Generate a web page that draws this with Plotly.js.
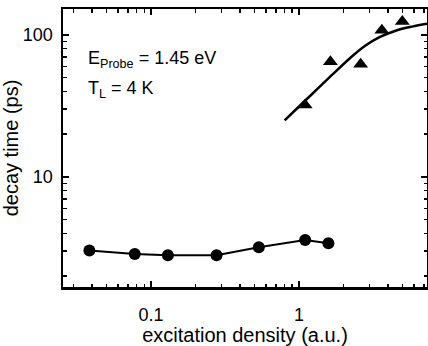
<!DOCTYPE html>
<html><head><meta charset="utf-8">
<script src="https://cdn.plot.ly/plotly-3.0.1.min.js"></script>
<style>html,body{margin:0;padding:0;background:#fff}#c{width:428px;height:346px}</style>
</head><body><div id="c"></div>
<script>
// low-density series (circles)
const circX = [0.0383, 0.0776, 0.130, 0.277, 0.535, 1.10, 1.58];
const circY = [3.03, 2.87, 2.81, 2.81, 3.20, 3.60, 3.41];
// high-density series (triangles)
const triX = [1.10, 1.63, 2.61, 3.63, 4.99];
const triY = [32.1, 64.6, 62.0, 107.7, 124.2];
// fit curve
const fitX = [0.80, 1.0, 1.3, 1.7, 2.2, 2.8, 3.5, 4.5, 5.8, 7.4];
const fitY = [25.0, 31.3, 40.6, 53.1, 68.2, 83.7, 96.2, 106.9, 114.2, 119.7];
const xTicks = [0.1, 1];
const xTickText = ['0.1', '1'];
const yTicks = [10, 100];
const yTickText = ['10', '100'];
const xMinor = [0.03,0.04,0.05,0.06,0.07,0.08,0.09,0.2,0.3,0.4,0.5,0.6,0.7,0.8,0.9,2,3,4,5,6,7];
const yMinor = [2,3,4,5,6,7,8,9,20,30,40,50,60,70,80,90];

const font = 'Liberation Sans, Arial, sans-serif';
const data = [
  {x: circX, y: circY, type: 'scatter', mode: 'lines+markers',
   line: {color: '#000', width: 2}, marker: {symbol: 'circle', size: 12, color: '#000'}},
  {x: fitX, y: fitY, type: 'scatter', mode: 'lines',
   line: {color: '#000', width: 2.5, shape: 'spline', smoothing: 1}},
  {x: triX, y: triY, type: 'scatter', mode: 'markers',
   marker: {symbol: 'triangle-up', size: 13, color: '#000'}}
];
const axBase = {
  type: 'log', showline: true, linecolor: '#000', linewidth: 2.5, mirror: 'ticks',
  ticks: 'inside', ticklen: 6, tickwidth: 1.5, tickcolor: '#000', showgrid: false, zeroline: false,
  tickfont: {family: font, size: 18, color: '#000'}, tickmode: 'array'
};
const layout = {
  width: 428, height: 346, margin: {l: 63, r: 1, t: 9, b: 59},
  paper_bgcolor: '#fff', plot_bgcolor: '#fff', showlegend: false,
  xaxis: Object.assign({}, axBase, {
    range: [Math.log10(0.0254), Math.log10(7.33)], tickvals: xTicks, ticktext: xTickText,
    ticklabelstandoff: 10,
    minor: {tickmode: 'array', tickvals: xMinor, ticks: 'inside', ticklen: 3.5, tickwidth: 1.5, tickcolor: '#000'},
    title: {text: 'excitation density (a.u.)', font: {family: font, size: 20, color: '#000'}, standoff: 5}
  }),
  yaxis: Object.assign({}, axBase, {
    range: [Math.log10(1.68), Math.log10(152)], tickvals: yTicks, ticktext: yTickText,
    ticklabelstandoff: 4,
    minor: {tickmode: 'array', tickvals: yMinor, ticks: 'inside', ticklen: 3.5, tickwidth: 1.5, tickcolor: '#000'},
    title: {text: 'decay time (ps)', font: {family: font, size: 20, color: '#000'}, standoff: 8}
  }),
  annotations: [
    {xref: 'paper', yref: 'paper', x: 0.062, y: 0.82, xanchor: 'left', yanchor: 'middle', showarrow: false,
     text: 'E<sub>Probe</sub> = 1.45 eV', font: {family: font, size: 18, color: '#000'}},
    {xref: 'paper', yref: 'paper', x: 0.062, y: 0.71, xanchor: 'left', yanchor: 'middle', showarrow: false,
     text: 'T<sub>L</sub> = 4 K', font: {family: font, size: 18, color: '#000'}}
  ]
};
Plotly.newPlot('c', data, layout, {displayModeBar: false, staticPlot: true});
</script></body></html>
